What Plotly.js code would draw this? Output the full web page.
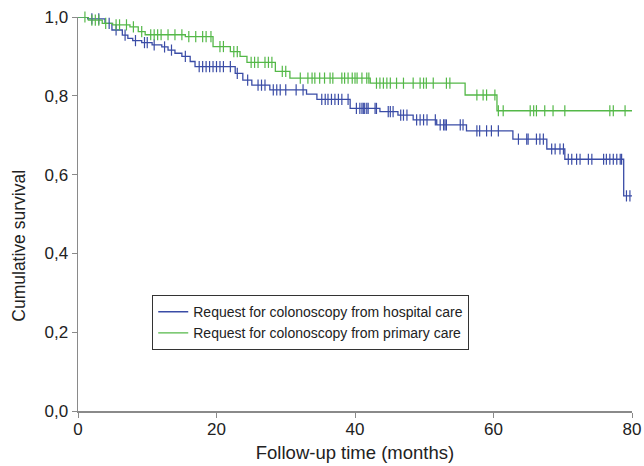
<!DOCTYPE html>
<html>
<head>
<meta charset="utf-8">
<script src="https://cdn.plot.ly/plotly-3.0.1.min.js"></script>
<style>html,body{margin:0;padding:0;background:#fff;}#chart{width:644px;height:466px;}</style>
</head>
<body>
<div id="chart"></div>
<script>
// Step times (months) and survival after each step
const hospitalTimes = [0, 1.4, 3.9, 4.9, 6.4, 7.2, 7.9, 9.2, 10.7, 12.1, 13, 14, 15, 16.2, 16.9, 22.7, 23.8, 25.1, 27.7, 33, 34.5, 39.3, 43.6, 46.2, 48.4, 51.8, 56.1, 62.8, 67.7, 70.3, 78.8, 80];
const hospitalSurv  = [1.0, 0.995, 0.984, 0.967, 0.954, 0.946, 0.940, 0.935, 0.929, 0.924, 0.916, 0.908, 0.900, 0.887, 0.874, 0.857, 0.840, 0.827, 0.815, 0.804, 0.791, 0.768, 0.760, 0.751, 0.739, 0.726, 0.711, 0.690, 0.665, 0.639, 0.546, 0.546];
const primaryTimes = [0, 1.5, 3.5, 5, 7.5, 8.7, 9.7, 15.5, 19.5, 22, 23.4, 24.4, 28.5, 30.6, 42.2, 55.9, 60.5, 80];
const primarySurv  = [1.0, 0.992, 0.984, 0.980, 0.975, 0.963, 0.955, 0.950, 0.925, 0.912, 0.900, 0.885, 0.862, 0.845, 0.832, 0.802, 0.762, 0.762];

// Censored observation times
const hospitalCensor = [2, 3, 4.5, 5.5, 6.8, 8.3, 9.6, 10, 11, 12.5, 13.5, 15.5, 17.5, 18, 18.5, 19, 19.5, 20, 20.5, 21, 22, 23, 24.5, 26, 26.5, 27, 28.2, 28.7, 29.2, 30, 31.5, 32.5, 35.2, 35.7, 36.1, 36.6, 37.1, 37.6, 38.1, 39, 40.2, 40.7, 41, 41.2, 41.4, 41.7, 41.9, 42.9, 43.1, 44.8, 45.1, 45.5, 46.6, 47, 47.5, 48.9, 49.4, 49.9, 50.4, 51.6, 52.3, 52.8, 53, 53.2, 55.2, 55.6, 57.6, 58, 59, 59.7, 60.7, 63.6, 64.8, 65, 66.2, 66.7, 67.2, 68.4, 68.9, 69.6, 70.1, 70.8, 71.3, 72, 72.5, 73.7, 74.2, 75.9, 76.3, 76.8, 77.3, 77.8, 78.3, 78.5, 79.2, 79.7];
const primaryCensor = [1, 2, 2.5, 3, 4, 5.5, 6, 7, 8, 9.2, 10.5, 11, 11.5, 12, 13, 14, 15, 16, 17, 18, 18.5, 19.2, 20.5, 21, 22.5, 23, 25, 25.5, 26, 27, 27.5, 28, 29.5, 30, 32.1, 33.2, 33.8, 34.2, 34.9, 35.6, 36.4, 36.8, 38.1, 38.5, 39, 39.6, 40, 40.3, 41, 41.7, 42, 43.1, 43.6, 44.1, 44.6, 45.1, 46, 47, 48.4, 49.4, 49.9, 50.3, 51.3, 53.2, 53.7, 57.6, 58.5, 59, 60.2, 60.7, 61.4, 65.3, 65.8, 66.2, 67.4, 68.6, 70.3, 76.8, 77.3, 79];

const seriesNames = ['Request for colonoscopy from hospital care', 'Request for colonoscopy from primary care'];
const blue = 'rgb(58,76,166)';
const green = 'rgb(84,184,72)';

function survAt(times, surv, t) {
  let s = surv[0];
  for (let i = 0; i < times.length; i++) { if (times[i] <= t) s = surv[i]; }
  return s;
}

const traces = [
  {x: hospitalTimes, y: hospitalSurv, name: seriesNames[0], mode: 'lines', line: {shape: 'hv', color: blue, width: 1.3}, cliponaxis: false, legendgroup: 'h'},
  {x: primaryTimes, y: primarySurv, name: seriesNames[1], mode: 'lines', line: {shape: 'hv', color: green, width: 1.3}, cliponaxis: false, legendgroup: 'p'},
  {x: hospitalCensor, y: hospitalCensor.map(t => survAt(hospitalTimes, hospitalSurv, t)), mode: 'markers', showlegend: false, legendgroup: 'h',
   marker: {symbol: 'line-ns', size: 8, line: {color: blue, width: 1.2}}, cliponaxis: false, hoverinfo: 'skip'},
  {x: primaryCensor, y: primaryCensor.map(t => survAt(primaryTimes, primarySurv, t)), mode: 'markers', showlegend: false, legendgroup: 'p',
   marker: {symbol: 'line-ns', size: 8, line: {color: green, width: 1.2}}, cliponaxis: false, hoverinfo: 'skip'}
];

const layout = {
  width: 644, height: 466,
  margin: {l: 78, r: 12, t: 17, b: 55},
  paper_bgcolor: '#fff', plot_bgcolor: '#fff',
  separators: ',.',
  font: {family: 'Liberation Sans, Arial, sans-serif', color: '#222', size: 16},
  showlegend: true,
  legend: {x: 0.134, y: 0.294, xanchor: 'left', yanchor: 'top', bordercolor: '#333', borderwidth: 1, bgcolor: '#fff',
           font: {size: 14, color: '#222'}, itemwidth: 30, tracegroupgap: 0},
  xaxis: {range: [0, 80], tickvals: [0, 20, 40, 60, 80], showgrid: false, zeroline: false, showline: true, linecolor: '#8a8a8a', linewidth: 1.5,
          ticks: 'outside', ticklen: 5, tickcolor: '#8a8a8a', tickfont: {size: 17}, ticklabelstandoff: -3,
          title: {text: 'Follow-up time (months)', font: {size: 18.5}, standoff: 8}},
  yaxis: {range: [0, 1.0], tickvals: [0, 0.2, 0.4, 0.6, 0.8, 1.0], tickformat: '.1f', showgrid: false, zeroline: false, showline: true, linecolor: '#8a8a8a', linewidth: 1.5,
          ticks: 'outside', ticklen: 5, tickcolor: '#8a8a8a', tickfont: {size: 17}},
  annotations: [{text: 'Cumulative survival', xref: 'paper', yref: 'paper', x: -0.108, y: 0.42, xanchor: 'center', yanchor: 'middle',
                 textangle: -90, showarrow: false, font: {size: 17.5, color: '#222'}}]
};

Plotly.newPlot('chart', traces, layout, {displayModeBar: false, staticPlot: true});
</script>
</body>
</html>
